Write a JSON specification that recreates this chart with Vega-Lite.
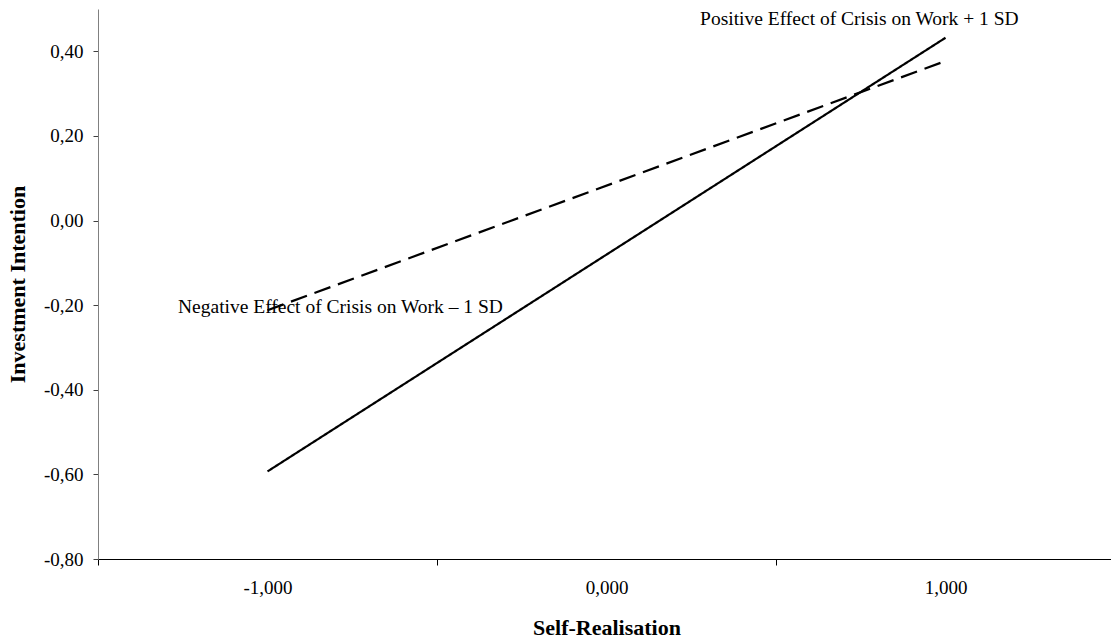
{
  "$schema": "https://vega.github.io/schema/vega-lite/v6.json",
  "width": 1017,
  "height": 550,
  "autosize": {"type": "none"},
  "padding": {"left": 98, "top": 9, "right": 0, "bottom": 80},
  "background": "white",
  "config": {
    "font": "Liberation Serif",
    "view": {"stroke": null},
    "axis": {"grid": false}
  },
  "datasets": {
    "lines": [
      {"sr": -1, "ii": -0.593, "series": "Positive Effect of Crisis on Work + 1 SD"},
      {"sr": 1, "ii": 0.432, "series": "Positive Effect of Crisis on Work + 1 SD"},
      {"sr": -1, "ii": -0.212, "series": "Negative Effect of Crisis on Work – 1 SD"},
      {"sr": 1, "ii": 0.377, "series": "Negative Effect of Crisis on Work – 1 SD"}
    ]
  },
  "layer": [
    {
      "data": {"name": "lines"},
      "mark": {"type": "line", "strokeWidth": 2.2, "color": "black"},
      "encoding": {
        "x": {
          "field": "sr",
          "type": "quantitative",
          "scale": {"domain": [-1.5, 1.5], "nice": false, "zero": false},
          "axis": {
            "values": [-1.5, -1, -0.5, 0, 0.5, 1, 1.5],
            "title": "Self-Realisation",
            "titleFontSize": 22,
            "titleFontWeight": "bold",
            "titleColor": "black",
            "titleY": 68,
            "titleBaseline": "middle",
            "labelFontSize": 19,
            "labelColor": "black",
            "labelExpr": "datum.value == -1 ? '-1,000' : datum.value == 0 ? '0,000' : datum.value == 1 ? '1,000' : ''",
            "labelFlush": false,
            "labelOverlap": false,
            "labelPadding": 13,
            "tickSize": 6,
            "tickColor": "black",
            "tickOpacity": {"condition": {"test": "datum.value == -1 || datum.value == 0 || datum.value == 1", "value": 0}, "value": 1},
            "domainColor": "black"
          }
        },
        "y": {
          "field": "ii",
          "type": "quantitative",
          "scale": {"domain": [-0.8, 0.5], "nice": false, "zero": false},
          "axis": {
            "values": [-0.8, -0.6, -0.4, -0.2, 0, 0.2, 0.4],
            "title": "Investment Intention",
            "titleFontSize": 22,
            "titleFontWeight": "bold",
            "titleColor": "black",
            "titleX": -80.5,
            "titleY": 275,
            "titleAngle": -90,
            "titleBaseline": "middle",
            "titleAlign": "center",
            "labelFontSize": 19,
            "labelColor": "black",
            "labelExpr": "(datum.value < -0.001 ? '-' : '') + replace(format(abs(datum.value), '.2f'), '.', ',')",
            "labelPadding": 10,
            "labelFlush": false,
            "labelOverlap": false,
            "tickSize": 5,
            "tickColor": "#404040",
            "domainColor": "#808080"
          }
        },
        "strokeDash": {
          "field": "series",
          "type": "nominal",
          "scale": {
            "domain": ["Positive Effect of Crisis on Work + 1 SD", "Negative Effect of Crisis on Work – 1 SD"],
            "range": [[1, 0], [17, 8]]
          },
          "legend": null
        }
      }
    },
    {
      "data": {"values": [{}]},
      "mark": {"type": "text", "font": "Liberation Serif", "fontSize": 19.5, "align": "left", "baseline": "middle", "color": "black"},
      "encoding": {
        "x": {"datum": 0.276},
        "y": {"datum": 0.476},
        "text": {"value": "Positive Effect of Crisis on Work + 1 SD"}
      }
    },
    {
      "data": {"values": [{}]},
      "mark": {"type": "text", "font": "Liberation Serif", "fontSize": 19.5, "align": "left", "baseline": "middle", "color": "black"},
      "encoding": {
        "x": {"datum": -1.264},
        "y": {"datum": -0.204},
        "text": {"value": "Negative Effect of Crisis on Work – 1 SD"}
      }
    }
  ]
}
